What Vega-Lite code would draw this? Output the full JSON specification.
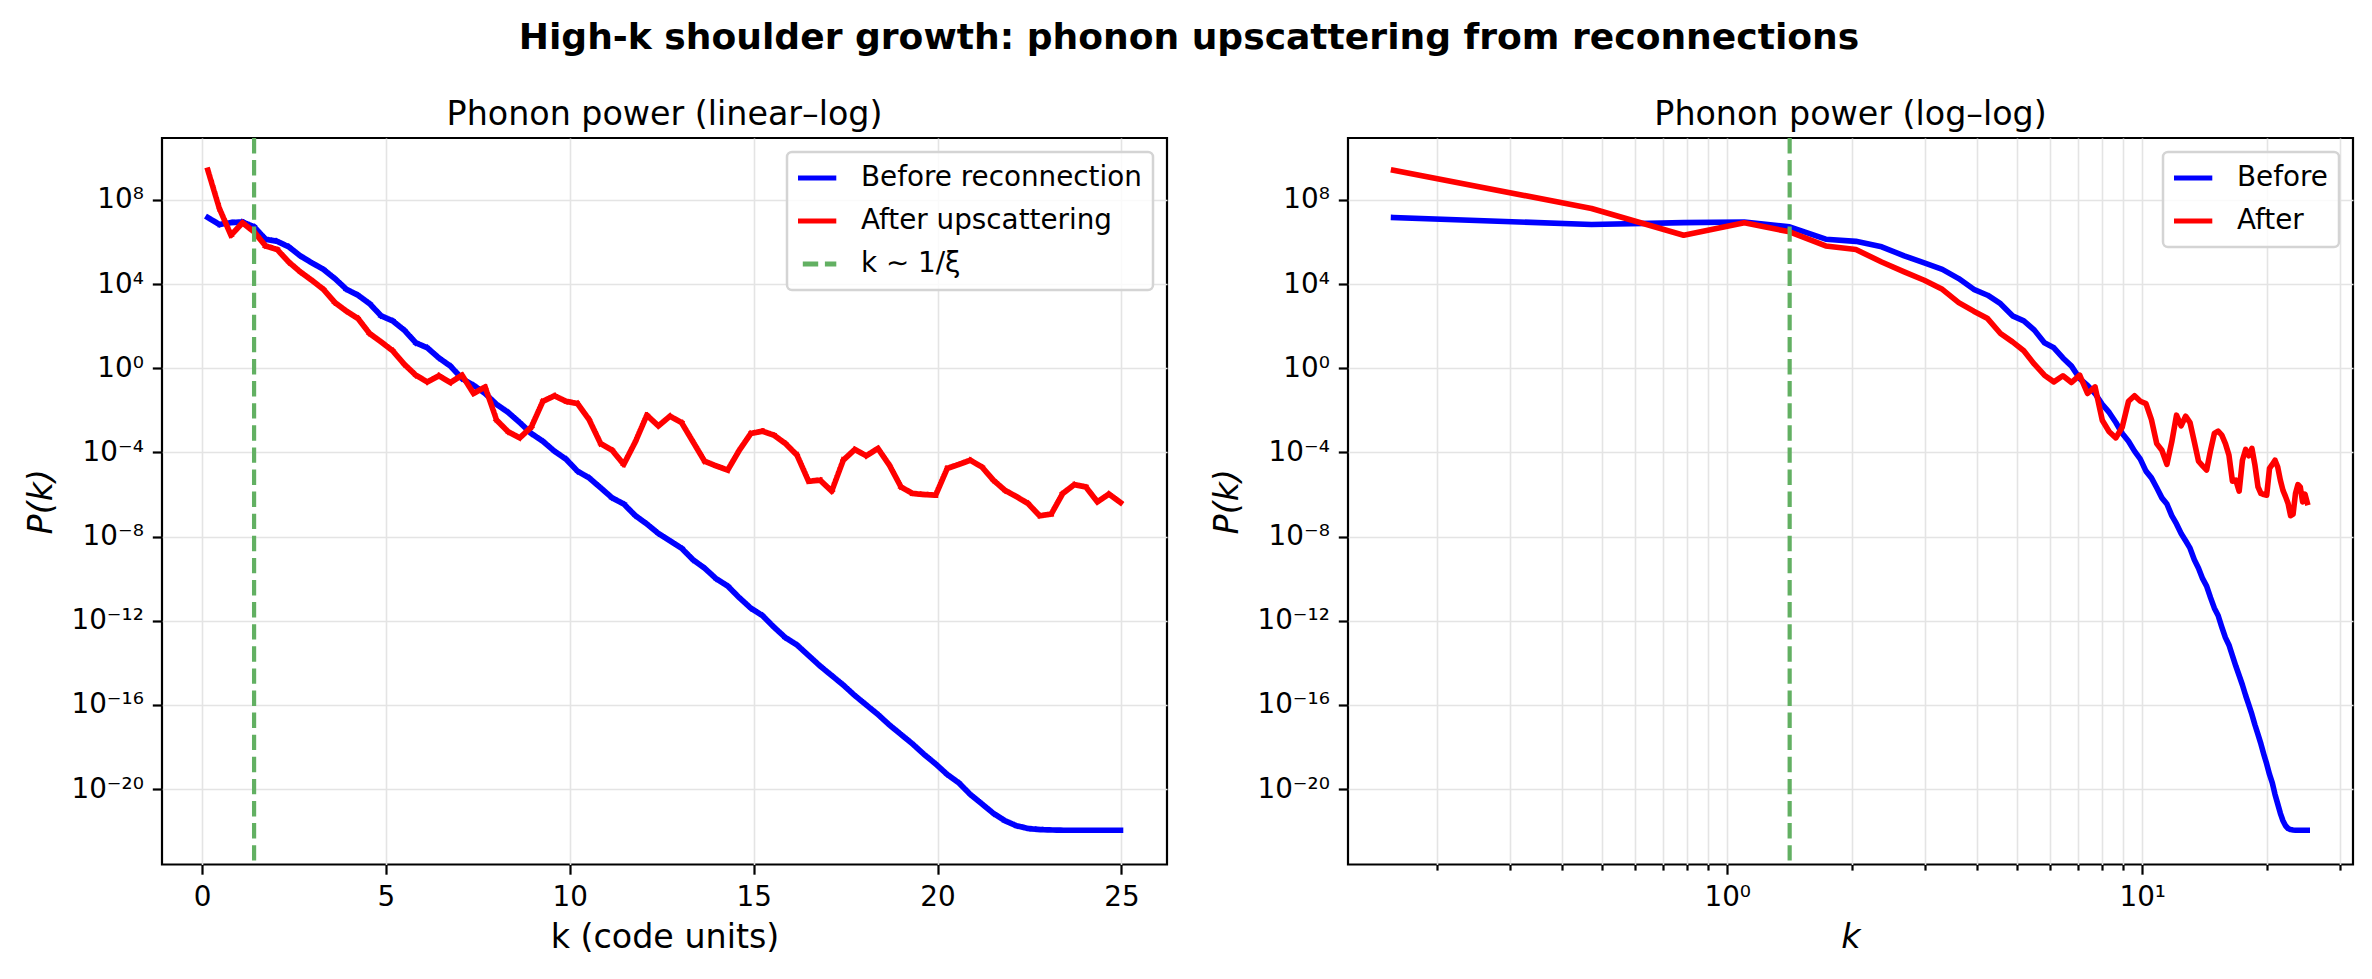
{
  "$schema": "https://vega.github.io/schema/vega-lite/v6.json",
  "background": "white",
  "padding": {"left": 23, "top": 20, "right": 16, "bottom": 12},
  "title": {
    "text": "High-k shoulder growth: phonon upscattering from reconnections",
    "font": "DejaVu Sans",
    "fontSize": 36.1,
    "fontWeight": "bold",
    "color": "black",
    "anchor": "middle",
    "offset": 40
  },
  "datasets": {
    "spectra": [
      {"k": 0.1571, "before": 1.45e7, "after": 2.57e9},
      {"k": 0.4712, "before": 6.76e6, "after": 3.89e7},
      {"k": 0.7854, "before": 8.32e6, "after": 2.09e6},
      {"k": 1.0996, "before": 8.91e6, "after": 8.13e6},
      {"k": 1.4137, "before": 5.25e6, "after": 3.02e6},
      {"k": 1.7279, "before": 1.35e6, "after": 6.46e5},
      {"k": 2.042, "before": 1.07e6, "after": 4.37e5},
      {"k": 2.3562, "before": 5.89e5, "after": 1.12e5},
      {"k": 2.6704, "before": 2.19e5, "after": 3.8e4},
      {"k": 2.9845, "before": 1.02e5, "after": 1.51e4},
      {"k": 3.2987, "before": 5.01e4, "after": 5.62e3},
      {"k": 3.6128, "before": 1.82e4, "after": 1.32e3},
      {"k": 3.927, "before": 5.62e3, "after": 513},
      {"k": 4.2412, "before": 2.95e3, "after": 229},
      {"k": 4.5553, "before": 1.17e3, "after": 44.7},
      {"k": 4.8695, "before": 309, "after": 17.8},
      {"k": 5.1836, "before": 178, "after": 6.76},
      {"k": 5.4978, "before": 64.6, "after": 1.55},
      {"k": 5.8119, "before": 16.2, "after": 0.468},
      {"k": 6.1261, "before": 9.33, "after": 0.224},
      {"k": 6.4403, "before": 3.09, "after": 0.437},
      {"k": 6.7544, "before": 1.26, "after": 0.209},
      {"k": 7.0686, "before": 0.324, "after": 0.468},
      {"k": 7.3827, "before": 0.155, "after": 0.0631},
      {"k": 7.6969, "before": 0.0631, "after": 0.129},
      {"k": 8.0111, "before": 0.0191, "after": 3.39e-3},
      {"k": 8.3252, "before": 7.94e-3, "after": 9.55e-4},
      {"k": 8.6394, "before": 2.63e-3, "after": 4.9e-4},
      {"k": 8.9535, "before": 7.94e-4, "after": 1.62e-3},
      {"k": 9.2677, "before": 3.39e-4, "after": 0.0269},
      {"k": 9.5819, "before": 1.15e-4, "after": 0.049},
      {"k": 9.896, "before": 4.79e-5, "after": 0.0269},
      {"k": 10.2102, "before": 1.29e-5, "after": 0.0209},
      {"k": 10.5243, "before": 6.17e-6, "after": 3.63e-3},
      {"k": 10.8385, "before": 2.09e-6, "after": 2.63e-4},
      {"k": 11.1527, "before": 6.92e-7, "after": 1.26e-4},
      {"k": 11.4668, "before": 3.55e-7, "after": 2.69e-5},
      {"k": 11.781, "before": 1.0e-7, "after": 3.16e-4},
      {"k": 12.0951, "before": 3.98e-8, "after": 5.89e-3},
      {"k": 12.4093, "before": 1.41e-8, "after": 1.82e-3},
      {"k": 12.7235, "before": 6.31e-9, "after": 5.25e-3},
      {"k": 13.0376, "before": 2.82e-9, "after": 2.63e-3},
      {"k": 13.3518, "before": 7.94e-10, "after": 3.16e-4},
      {"k": 13.6659, "before": 3.16e-10, "after": 3.8e-5},
      {"k": 13.9801, "before": 1.0e-10, "after": 2.29e-5},
      {"k": 14.2942, "before": 4.47e-11, "after": 1.45e-5},
      {"k": 14.6084, "before": 1.26e-11, "after": 1.26e-4},
      {"k": 14.9226, "before": 3.98e-12, "after": 7.94e-4},
      {"k": 15.2367, "before": 1.78e-12, "after": 1.02e-3},
      {"k": 15.5509, "before": 5.01e-13, "after": 6.61e-4},
      {"k": 15.865, "before": 1.58e-13, "after": 2.63e-4},
      {"k": 16.1792, "before": 7.08e-14, "after": 7.41e-5},
      {"k": 16.4934, "before": 2.24e-14, "after": 4.27e-6},
      {"k": 16.8075, "before": 7.08e-15, "after": 4.79e-6},
      {"k": 17.1217, "before": 2.51e-15, "after": 1.45e-6},
      {"k": 17.4358, "before": 8.91e-16, "after": 4.27e-5},
      {"k": 17.75, "before": 2.82e-16, "after": 1.38e-4},
      {"k": 18.0642, "before": 1.0e-16, "after": 6.92e-5},
      {"k": 18.3783, "before": 3.55e-17, "after": 1.55e-4},
      {"k": 18.6925, "before": 1.12e-17, "after": 2.45e-5},
      {"k": 19.0066, "before": 3.98e-18, "after": 2.29e-6},
      {"k": 19.3208, "before": 1.41e-18, "after": 1.12e-6},
      {"k": 19.635, "before": 4.47e-19, "after": 1.0e-6},
      {"k": 19.9491, "before": 1.58e-19, "after": 9.33e-7},
      {"k": 20.2633, "before": 5.01e-20, "after": 1.74e-5},
      {"k": 20.5774, "before": 2.0e-20, "after": 2.69e-5},
      {"k": 20.8916, "before": 5.62e-21, "after": 4.27e-5},
      {"k": 21.2058, "before": 2.0e-21, "after": 2.04e-5},
      {"k": 21.5199, "before": 7.08e-22, "after": 4.79e-6},
      {"k": 21.8341, "before": 3.16e-22, "after": 1.58e-6},
      {"k": 22.1482, "before": 1.82e-22, "after": 7.94e-7},
      {"k": 22.4624, "before": 1.35e-22, "after": 3.72e-7},
      {"k": 22.7765, "before": 1.2e-22, "after": 9.77e-8},
      {"k": 23.0907, "before": 1.15e-22, "after": 1.17e-7},
      {"k": 23.4049, "before": 1.12e-22, "after": 1.12e-6},
      {"k": 23.719, "before": 1.12e-22, "after": 2.95e-6},
      {"k": 24.0332, "before": 1.12e-22, "after": 2.29e-6},
      {"k": 24.3473, "before": 1.12e-22, "after": 4.47e-7},
      {"k": 24.6615, "before": 1.12e-22, "after": 1.05e-6},
      {"k": 24.9757, "before": 1.12e-22, "after": 4.17e-7}
    ],
    "healing": [
      {"k": 1.4142, "series": "xi"}
    ]
  },
  "hconcat": [
    {
      "width": 1005,
      "height": 726.5,
      "title": {
        "text": "Phonon power (linear–log)",
        "font": "DejaVu Sans",
        "fontSize": 33.3,
        "fontWeight": "normal",
        "color": "black",
        "frame": "group",
        "anchor": "middle",
        "offset": 4
      },
      "encoding": {
        "x": {
          "field": "k",
          "type": "quantitative",
          "scale": {"domain": [-1.09, 26.24], "nice": false, "zero": false},
          "axis": {
            "values": [0, 5, 10, 15, 20, 25],
            "title": "k  (code units)",
            "titlePadding": 10
          }
        },
        "color": {
          "field": "series",
          "type": "nominal",
          "scale": {"domain": ["before", "after", "xi"], "range": ["#0000ff", "#ff0000", "#62b062"]},
          "legend": {
            "title": null,
            "orient": "top-right",
            "offset": 14,
            "labelExpr": "datum.value == 'before' ? 'Before reconnection' : datum.value == 'after' ? 'After upscattering' : 'k ∼ 1/ξ'",
            "symbolType": "stroke",
            "symbolSize": 3091,
            "symbolStrokeWidth": 5.2,
            "symbolOffset": -20,
            "clipHeight": 30,
            "labelFont": "DejaVu Sans",
            "labelFontSize": 27.8,
            "labelColor": "black",
            "labelOffset": 22,
            "labelLimit": 600,
            "rowPadding": 13,
            "padding": 11,
            "fillColor": "rgba(255,255,255,0.8)",
            "strokeColor": "#d4d4d4",
            "cornerRadius": 5,
            "encode": {"legend": {"update": {"strokeWidth": {"value": 2.5}}}}
          }
        },
        "strokeDash": {
          "field": "series",
          "type": "nominal",
          "scale": {"domain": ["before", "after", "xi"], "range": [[1, 0], [1, 0], [15.4, 6.7]]},
          "legend": {
            "title": null,
            "orient": "top-right",
            "offset": 14,
            "labelExpr": "datum.value == 'before' ? 'Before reconnection' : datum.value == 'after' ? 'After upscattering' : 'k ∼ 1/ξ'",
            "symbolType": "stroke",
            "symbolSize": 3091,
            "symbolStrokeWidth": 5.2,
            "symbolOffset": -20,
            "clipHeight": 30,
            "labelFont": "DejaVu Sans",
            "labelFontSize": 27.8,
            "labelColor": "black",
            "labelOffset": 22,
            "labelLimit": 600,
            "rowPadding": 13,
            "padding": 11,
            "fillColor": "rgba(255,255,255,0.8)",
            "strokeColor": "#d4d4d4",
            "cornerRadius": 5,
            "encode": {"legend": {"update": {"strokeWidth": {"value": 2.5}}}}
          }
        }
      },
      "layer": [
        {
          "data": {"name": "spectra"},
          "transform": [{"fold": ["before", "after"], "as": ["series", "P"]}],
          "mark": {"type": "line", "strokeWidth": 5.6, "strokeJoin": "round", "strokeCap": "square"},
          "encoding": {
            "y": {
              "field": "P",
              "type": "quantitative",
              "scale": {"type": "log", "domain": [2.63e-24, 8.7e10], "nice": false},
              "axis": {
                "values": [1e8, 1e4, 1, 1e-4, 1e-8, 1e-12, 1e-16, 1e-20],
                "labelExpr": "datum.value > 1e6 ? '10⁸' : datum.value > 100 ? '10⁴' : datum.value > 0.01 ? '10⁰' : datum.value > 1e-6 ? '10⁻⁴' : datum.value > 1e-10 ? '10⁻⁸' : datum.value > 1e-14 ? '10⁻¹²' : datum.value > 1e-18 ? '10⁻¹⁶' : '10⁻²⁰'",
                "title": "P(k)",
                "titleFontStyle": "italic",
                "titlePadding": 12
              }
            }
          }
        },
        {
          "data": {"name": "healing"},
          "mark": {"type": "rule", "strokeWidth": 4.2, "strokeCap": "butt"},
          "encoding": {}
        }
      ]
    },
    {
      "width": 1005,
      "height": 726.5,
      "title": {
        "text": "Phonon power (log–log)",
        "font": "DejaVu Sans",
        "fontSize": 33.3,
        "fontWeight": "normal",
        "color": "black",
        "frame": "group",
        "anchor": "middle",
        "offset": 4
      },
      "encoding": {
        "x": {
          "field": "k",
          "type": "quantitative",
          "scale": {"type": "log", "domain": [0.122, 32.2], "nice": false},
          "axis": {
            "values": [0.2, 0.3, 0.4, 0.5, 0.6, 0.7, 0.8, 0.9, 1, 2, 3, 4, 5, 6, 7, 8, 9, 10, 20, 30],
            "labelExpr": "datum.value == 1 ? '10⁰' : datum.value == 10 ? '10¹' : ''",
            "tickSize": {"condition": {"test": "datum.value == 1 || datum.value == 10", "value": 9.7}, "value": 5.6},
            "labelPadding": 9,
            "title": "k",
            "titleFontStyle": "italic",
            "titlePadding": 10
          }
        }
      },
      "layer": [
        {
          "data": {"name": "spectra"},
          "transform": [{"fold": ["before", "after"], "as": ["series", "P"]}],
          "mark": {"type": "line", "strokeWidth": 5.6, "strokeJoin": "round", "strokeCap": "square"},
          "encoding": {
            "y": {
              "field": "P",
              "type": "quantitative",
              "scale": {"type": "log", "domain": [2.63e-24, 8.7e10], "nice": false},
              "axis": {
                "values": [1e8, 1e4, 1, 1e-4, 1e-8, 1e-12, 1e-16, 1e-20],
                "labelExpr": "datum.value > 1e6 ? '10⁸' : datum.value > 100 ? '10⁴' : datum.value > 0.01 ? '10⁰' : datum.value > 1e-6 ? '10⁻⁴' : datum.value > 1e-10 ? '10⁻⁸' : datum.value > 1e-14 ? '10⁻¹²' : datum.value > 1e-18 ? '10⁻¹⁶' : '10⁻²⁰'",
                "title": "P(k)",
                "titleFontStyle": "italic",
                "titlePadding": 12
              }
            },
            "color": {
              "field": "series",
              "type": "nominal",
              "scale": {"domain": ["before", "after"], "range": ["#0000ff", "#ff0000"]},
              "legend": {
                "title": null,
                "orient": "top-right",
                "offset": 14,
                "labelExpr": "datum.value == 'before' ? 'Before' : 'After'",
                "symbolType": "stroke",
                "symbolSize": 3091,
                "symbolStrokeWidth": 5.2,
                "symbolOffset": -20,
                "clipHeight": 30,
                "labelFont": "DejaVu Sans",
                "labelFontSize": 27.8,
                "labelColor": "black",
                "labelOffset": 22,
                "rowPadding": 13,
                "padding": 11,
                "fillColor": "rgba(255,255,255,0.8)",
                "strokeColor": "#d4d4d4",
                "cornerRadius": 5,
                "encode": {"legend": {"update": {"strokeWidth": {"value": 2.5}}}}
              }
            }
          }
        },
        {
          "data": {"name": "healing"},
          "mark": {"type": "rule", "color": "#62b062", "strokeWidth": 4.2, "strokeDash": [15.4, 6.7], "strokeCap": "butt"},
          "encoding": {}
        }
      ]
    }
  ],
  "spacing": 40,
  "resolve": {
    "scale": {"color": "independent", "strokeDash": "independent", "x": "independent", "y": "independent"},
    "legend": {"color": "independent", "strokeDash": "independent"}
  },
  "config": {
    "font": "DejaVu Sans",
    "view": {"stroke": "black", "strokeWidth": 2.2},
    "axis": {
      "domain": false,
      "grid": true,
      "gridColor": "#e4e4e4",
      "gridWidth": 1.6,
      "ticks": true,
      "tickColor": "black",
      "tickWidth": 2.2,
      "tickSize": 9.7,
      "labelFont": "DejaVu Sans",
      "labelFontSize": 27.8,
      "labelColor": "black",
      "labelPadding": 9,
      "labelOverlap": false,
      "labelFlush": false,
      "titleFont": "DejaVu Sans",
      "titleFontSize": 33.3,
      "titleFontWeight": "normal",
      "titleColor": "black"
    }
  }
}
